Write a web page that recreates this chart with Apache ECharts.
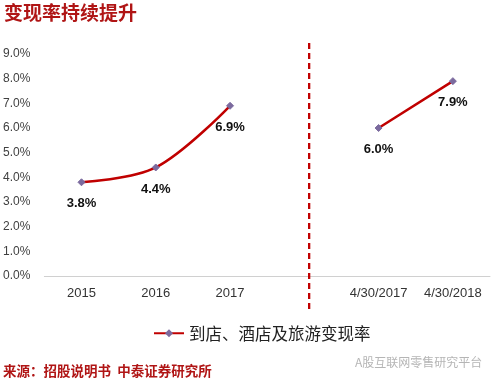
<!DOCTYPE html>
<html><head><meta charset="utf-8">
<script src="https://cdn.jsdelivr.net/npm/echarts@6/dist/echarts.min.js"></script>
<style>html,body{margin:0;padding:0;background:#fff}#c{width:498px;height:385px}</style>
</head><body><div id="c"></div>
<script>
const categories = ['2015', '2016', '2017', '', '4/30/2017', '4/30/2018'];
const rateValues = [3.8, 4.4, 6.9, null, 6.0, 7.9];
const dividerCategory = 3;
const yTicks = { min: 0, max: 9, interval: 1 };
const seriesName = '到店、酒店及旅游变现率';
const titleText = '变现率持续提升';
const sourceText = '来源：招股说明书  中泰证券研究所';
const watermarkText = 'A股互联网零售研究平台';

const chart = echarts.init(document.getElementById('c'));
chart.setOption({
  animation: false,
  title: [
    { text: titleText, left: 4, top: 3, padding: 0, textStyle: { color: '#B01515', fontSize: 19, fontWeight: 'bold', fontFamily: 'Noto Sans CJK SC' } },
    { text: sourceText, left: 3, top: 364, padding: 0, textStyle: { color: '#B01515', fontSize: 13.5, fontWeight: 'bold', fontFamily: 'Noto Sans CJK SC' } },
    { text: watermarkText, left: 355, top: 356, padding: 0, textStyle: { color: '#b5b5b5', fontSize: 12, fontWeight: 'normal', fontFamily: 'Noto Sans CJK SC' } }
  ],
  legend: {
    top: 320, left: 148,
    itemWidth: 30, itemHeight: 10, itemGap: 4,
    textStyle: { fontSize: 16.5, color: '#222', fontFamily: 'Noto Sans CJK SC' },
    data: [seriesName]
  },
  grid: [
    { left: 44, right: 8, top: 54, bottom: 109 },
    { left: 49, right: 3, top: 42, bottom: 76 }
  ],
  xAxis: [
    { type: 'category', gridIndex: 0, data: categories,
      axisLine: { lineStyle: { color: '#d0d0d0', width: 1 } },
      axisTick: { show: false },
      axisLabel: { interval: 0, color: '#333', fontSize: 13, margin: 11, fontFamily: 'Liberation Sans' } },
    { type: 'category', gridIndex: 1, data: categories, show: false }
  ],
  yAxis: [
    { type: 'value', gridIndex: 0, min: yTicks.min, max: yTicks.max, interval: yTicks.interval,
      axisLine: { show: false }, axisTick: { show: false }, splitLine: { show: false },
      axisLabel: { color: '#404040', fontSize: 12, margin: 14, fontFamily: 'Liberation Sans', formatter: v => v.toFixed(1) + '%' } },
    { type: 'value', gridIndex: 1, min: 0, max: 1, show: false }
  ],
  series: [
    { name: seriesName, type: 'line', xAxisIndex: 0, yAxisIndex: 0,
      data: rateValues, smooth: 0.35, connectNulls: false,
      symbol: 'diamond', symbolSize: 7,
      lineStyle: { color: '#C00000', width: 2.5 },
      itemStyle: { color: '#7B6A9E', borderColor: '#7B6A9E' },
      label: { show: true, position: 'bottom', distance: 11, color: '#111', fontSize: 13, fontWeight: 'bold', fontFamily: 'Liberation Sans',
        formatter: p => p.value.toFixed(1) + '%' } },
    { name: 'divider', type: 'line', xAxisIndex: 1, yAxisIndex: 1,
      data: [[dividerCategory, 0], [dividerCategory, 1]], symbol: 'none', silent: true,
      lineStyle: { color: '#C00000', width: 2.3, type: [6, 4] } }
  ]
});
</script></body></html>
